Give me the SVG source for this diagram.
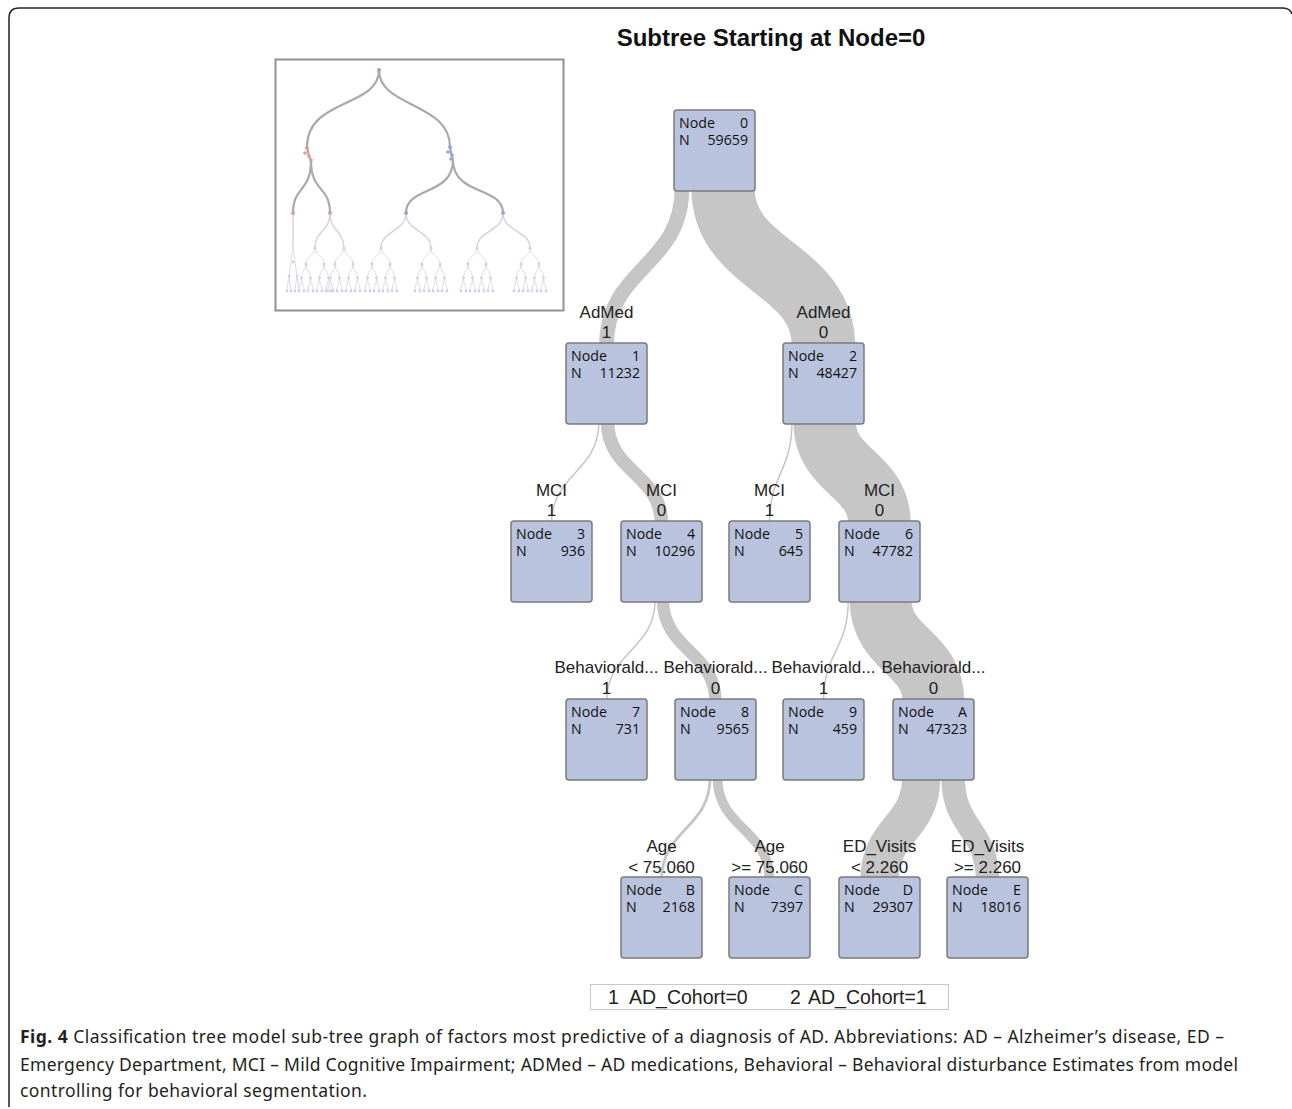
<svg xmlns="http://www.w3.org/2000/svg" xmlns:xlink="http://www.w3.org/1999/xlink" width="1292" height="1109" viewBox="0 0 1292 1109">
<style>
.nb{fill:#bac3de;stroke:#7b7b7b;stroke-width:1.5}
.nt{font-family:"Open Sans","Noto Sans",sans-serif;font-size:14.2px;fill:#111}
.e{text-anchor:end}
.lb{font-family:"Liberation Sans",Arial,sans-serif;font-size:17px;fill:#222;text-anchor:middle}
.band{fill:none;stroke:#c6c6c6;stroke-linecap:butt}
.mm1{fill:none;stroke:#a9a9ad;stroke-width:2.2}
.mm2{fill:none;stroke:#d2d3da;stroke-width:1.4}
.mm3{fill:none;stroke:#dcdde6;stroke-width:1}
.rd{fill:#e59a9a}
.bd{fill:#98a3dc}
.ld{fill:#cdd1ec}
.cap{font-family:"Noto Sans","Open Sans",sans-serif;font-size:17.5px;fill:#231f20}
</style>
<defs>
<g id="st">
<path class="mm3" d="M0,0 C0,8 -9,8 -9,16 M0,0 C0,8 9,8 9,16 M-9,16 C-9,23 -13.5,23 -13.5,30 M-9,16 C-9,23 -4.5,23 -4.5,30 M9,16 C9,23 4.5,23 4.5,30 M9,16 C9,23 13.5,23 13.5,30 M-13.5,30 C-13.5,36 -16,36 -16,42 M-13.5,30 C-13.5,36 -11,36 -11,42 M-4.5,30 C-4.5,36 -7,36 -7,42 M-4.5,30 C-4.5,36 -2,36 -2,42 M4.5,30 C4.5,36 2,36 2,42 M4.5,30 C4.5,36 7,36 7,42 M13.5,30 C13.5,36 11,36 11,42 M13.5,30 C13.5,36 16,36 16,42"/>
<circle class="ld" cx="0" cy="0" r="1.6"/><circle class="ld" cx="-9" cy="16" r="1.5"/><circle class="ld" cx="9" cy="16" r="1.5"/>
<circle class="ld" cx="-13.5" cy="30" r="1.4"/><circle class="ld" cx="-4.5" cy="30" r="1.4"/><circle class="ld" cx="4.5" cy="30" r="1.4"/><circle class="ld" cx="13.5" cy="30" r="1.4"/>
<circle class="ld" cx="-16" cy="43" r="1.4"/><circle class="ld" cx="-11" cy="43" r="1.4"/><circle class="ld" cx="-7" cy="43" r="1.4"/><circle class="ld" cx="-2" cy="43" r="1.4"/><circle class="ld" cx="2" cy="43" r="1.4"/><circle class="ld" cx="7" cy="43" r="1.4"/><circle class="ld" cx="11" cy="43" r="1.4"/><circle class="ld" cx="16" cy="43" r="1.4"/>
</g>
</defs>
<rect width="1292" height="1109" fill="#fff"/>
<path d="M9,1107 L9,18 Q9,8 19,8 L1282,8 Q1290,8 1292,14" fill="none" stroke="#222" stroke-width="1.5"/>

<text x="771" y="46" font-family="Liberation Sans,Arial,sans-serif" font-size="24" font-weight="bold" fill="#111" text-anchor="middle">Subtree Starting at Node=0</text>

<g id="overview">
<rect x="275.5" y="59.5" width="288" height="251" fill="#fff" stroke="#8c919c" stroke-width="2"/>
<path class="mm1" d="M379,70 C379,108 307,98 307,147 M379,70 C379,108 450,102 450,147"/>
<path class="mm1" d="M307,147 L309,156 L311,161 M450,147 L451,153 L453,160"/>
<path class="mm1" d="M311,161 C311,192 293,186 293,213 M311,161 C311,192 330,186 330,213 M453,160 C453,196 406,186 406,213 M453,160 C453,196 503,186 503,213"/>
<path class="mm2" d="M293,213 L293,245 M330,213 C330,232 315,230 315,248 M330,213 C330,232 344,230 344,248 M406,213 C406,232 381,230 381,248 M406,213 C406,232 431,230 431,248 M503,213 C503,232 477,230 477,248 M503,213 C503,232 530,230 530,248"/>
<path class="mm3" d="M293,245 L291,262 L289,276 M293,245 L295,262 L297,276 M289,276 L287,290 M289,276 L291,290 M297,276 L295,290 M297,276 L299,290"/>
<circle class="bd" cx="379" cy="70" r="2"/>
<circle class="rd" cx="307" cy="148" r="2"/><circle class="rd" cx="305" cy="153" r="1.8"/><circle class="rd" cx="309" cy="156" r="1.8"/><circle class="rd" cx="311" cy="160" r="1.8"/>
<circle class="bd" cx="450" cy="147" r="2"/><circle class="bd" cx="448" cy="152" r="1.8"/><circle class="bd" cx="452" cy="155" r="1.8"/><circle class="bd" cx="451" cy="159" r="1.8"/>
<circle class="rd" cx="293" cy="213" r="2"/><circle class="rd" cx="330" cy="213" r="2"/>
<circle class="bd" cx="406" cy="213" r="2"/><circle class="bd" cx="503" cy="213" r="2"/>
<use xlink:href="#st" x="315" y="248"/><use xlink:href="#st" x="344" y="248"/>
<use xlink:href="#st" x="381" y="248"/><use xlink:href="#st" x="431" y="248"/>
<use xlink:href="#st" x="477" y="248"/><use xlink:href="#st" x="530" y="248"/>
<circle class="ld" cx="293" cy="262" r="1.4"/><circle class="ld" cx="289" cy="276" r="1.4"/><circle class="ld" cx="297" cy="276" r="1.4"/><circle class="ld" cx="287" cy="291" r="1.4"/><circle class="ld" cx="291" cy="291" r="1.4"/><circle class="ld" cx="295" cy="291" r="1.4"/><circle class="ld" cx="299" cy="291" r="1.4"/>
</g>

<g id="connectors">
<path class="band" stroke-width="14.7" d="M682,188 C682,267 606.5,267 606.5,346"/>
<path class="band" stroke-width="63.3" d="M723,188 C723,267 823.5,267 823.5,346"/>
<path class="band" stroke-width="1.5" d="M599,421 C599,473 551.5,473 551.5,524"/>
<path class="band" stroke-width="13.5" d="M607.5,421 C607.5,473 661.5,473 661.5,524"/>
<path class="band" stroke-width="1.5" d="M792,421 C792,473 769.5,473 769.5,524"/>
<path class="band" stroke-width="62.5" d="M824.6,421 C824.6,473 879.5,473 879.5,524"/>
<path class="band" stroke-width="1.5" d="M655.2,599 C655.2,651 606.5,651 606.5,702"/>
<path class="band" stroke-width="12.5" d="M662.9,599 C662.9,651 715.5,651 715.5,702"/>
<path class="band" stroke-width="1.5" d="M848.3,599 C848.3,651 823.5,651 823.5,702"/>
<path class="band" stroke-width="61.9" d="M880.5,599 C880.5,651 933.5,651 933.5,702"/>
<path class="band" stroke-width="2.8" d="M710.1,777 C710.1,829 661.5,829 661.5,880"/>
<path class="band" stroke-width="9.7" d="M717.4,777 C717.4,829 769.5,829 769.5,880"/>
<path class="band" stroke-width="38.3" d="M921.2,777 C921.2,829 879.5,829 879.5,880"/>
<path class="band" stroke-width="23.5" d="M953.1,777 C953.1,829 987.5,829 987.5,880"/>
</g>

<g id="node0"><rect class="nb" x="674" y="110" width="81" height="81" rx="3"/><text class="nt" x="679" y="128">Node</text><text class="nt e" x="748" y="128">0</text><text class="nt" x="679" y="145">N</text><text class="nt e" x="748" y="145">59659</text></g>

<g id="node1"><text class="lb" x="606.5" y="318">AdMed</text><text class="lb" x="606.5" y="338">1</text><rect class="nb" x="566" y="343" width="81" height="81" rx="3"/><text class="nt" x="571" y="361">Node</text><text class="nt e" x="640" y="361">1</text><text class="nt" x="571" y="378">N</text><text class="nt e" x="640" y="378">11232</text></g>

<g id="node2"><text class="lb" x="823.5" y="318">AdMed</text><text class="lb" x="823.5" y="338">0</text><rect class="nb" x="783" y="343" width="81" height="81" rx="3"/><text class="nt" x="788" y="361">Node</text><text class="nt e" x="857" y="361">2</text><text class="nt" x="788" y="378">N</text><text class="nt e" x="857" y="378">48427</text></g>

<g id="node3"><text class="lb" x="551.5" y="496">MCI</text><text class="lb" x="551.5" y="516">1</text><rect class="nb" x="511" y="521" width="81" height="81" rx="3"/><text class="nt" x="516" y="539">Node</text><text class="nt e" x="585" y="539">3</text><text class="nt" x="516" y="556">N</text><text class="nt e" x="585" y="556">936</text></g>

<g id="node4"><text class="lb" x="661.5" y="496">MCI</text><text class="lb" x="661.5" y="516">0</text><rect class="nb" x="621" y="521" width="81" height="81" rx="3"/><text class="nt" x="626" y="539">Node</text><text class="nt e" x="695" y="539">4</text><text class="nt" x="626" y="556">N</text><text class="nt e" x="695" y="556">10296</text></g>

<g id="node5"><text class="lb" x="769.5" y="496">MCI</text><text class="lb" x="769.5" y="516">1</text><rect class="nb" x="729" y="521" width="81" height="81" rx="3"/><text class="nt" x="734" y="539">Node</text><text class="nt e" x="803" y="539">5</text><text class="nt" x="734" y="556">N</text><text class="nt e" x="803" y="556">645</text></g>

<g id="node6"><text class="lb" x="879.5" y="496">MCI</text><text class="lb" x="879.5" y="516">0</text><rect class="nb" x="839" y="521" width="81" height="81" rx="3"/><text class="nt" x="844" y="539">Node</text><text class="nt e" x="913" y="539">6</text><text class="nt" x="844" y="556">N</text><text class="nt e" x="913" y="556">47782</text></g>

<g id="node7"><text class="lb" x="606.5" y="673">Behaviorald...</text><text class="lb" x="606.5" y="694">1</text><rect class="nb" x="566" y="699" width="81" height="81" rx="3"/><text class="nt" x="571" y="717">Node</text><text class="nt e" x="640" y="717">7</text><text class="nt" x="571" y="734">N</text><text class="nt e" x="640" y="734">731</text></g>

<g id="node8"><text class="lb" x="715.5" y="673">Behaviorald...</text><text class="lb" x="715.5" y="694">0</text><rect class="nb" x="675" y="699" width="81" height="81" rx="3"/><text class="nt" x="680" y="717">Node</text><text class="nt e" x="749" y="717">8</text><text class="nt" x="680" y="734">N</text><text class="nt e" x="749" y="734">9565</text></g>

<g id="node9"><text class="lb" x="823.5" y="673">Behaviorald...</text><text class="lb" x="823.5" y="694">1</text><rect class="nb" x="783" y="699" width="81" height="81" rx="3"/><text class="nt" x="788" y="717">Node</text><text class="nt e" x="857" y="717">9</text><text class="nt" x="788" y="734">N</text><text class="nt e" x="857" y="734">459</text></g>

<g id="nodeA"><text class="lb" x="933.5" y="673">Behaviorald...</text><text class="lb" x="933.5" y="694">0</text><rect class="nb" x="893" y="699" width="81" height="81" rx="3"/><text class="nt" x="898" y="717">Node</text><text class="nt e" x="967" y="717">A</text><text class="nt" x="898" y="734">N</text><text class="nt e" x="967" y="734">47323</text></g>

<g id="nodeB"><text class="lb" x="661.5" y="852">Age</text><text class="lb" x="661.5" y="873">&lt; 75.060</text><rect class="nb" x="621" y="877" width="81" height="81" rx="3"/><text class="nt" x="626" y="895">Node</text><text class="nt e" x="695" y="895">B</text><text class="nt" x="626" y="912">N</text><text class="nt e" x="695" y="912">2168</text></g>

<g id="nodeC"><text class="lb" x="769.5" y="852">Age</text><text class="lb" x="769.5" y="873">&gt;= 75.060</text><rect class="nb" x="729" y="877" width="81" height="81" rx="3"/><text class="nt" x="734" y="895">Node</text><text class="nt e" x="803" y="895">C</text><text class="nt" x="734" y="912">N</text><text class="nt e" x="803" y="912">7397</text></g>

<g id="nodeD"><text class="lb" x="879.5" y="852">ED_Visits</text><text class="lb" x="879.5" y="873">&lt; 2.260</text><rect class="nb" x="839" y="877" width="81" height="81" rx="3"/><text class="nt" x="844" y="895">Node</text><text class="nt e" x="913" y="895">D</text><text class="nt" x="844" y="912">N</text><text class="nt e" x="913" y="912">29307</text></g>

<g id="nodeE"><text class="lb" x="987.5" y="852">ED_Visits</text><text class="lb" x="987.5" y="873">&gt;= 2.260</text><rect class="nb" x="947" y="877" width="81" height="81" rx="3"/><text class="nt" x="952" y="895">Node</text><text class="nt e" x="1021" y="895">E</text><text class="nt" x="952" y="912">N</text><text class="nt e" x="1021" y="912">18016</text></g>

<g id="legend">
<rect x="590.5" y="984.5" width="358" height="25" fill="#fff" stroke="#c8c8c8" stroke-width="1"/>
<text x="608" y="1004" font-family="Liberation Sans,Arial,sans-serif" font-size="19.5" fill="#222">1</text>
<text x="629" y="1004" font-family="Liberation Sans,Arial,sans-serif" font-size="19.5" fill="#222">AD_Cohort=0</text>
<text x="790" y="1004" font-family="Liberation Sans,Arial,sans-serif" font-size="19.5" fill="#222">2</text>
<text x="808" y="1004" font-family="Liberation Sans,Arial,sans-serif" font-size="19.5" fill="#222">AD_Cohort=1</text>
</g>

<g id="caption">
<text class="cap" x="20" y="1043" textLength="1204" lengthAdjust="spacing"><tspan font-weight="bold">Fig. 4</tspan> Classification tree model sub-tree graph of factors most predictive of a diagnosis of AD. Abbreviations: AD – Alzheimer’s disease, ED –</text>
<text class="cap" x="20" y="1071" textLength="1218" lengthAdjust="spacing">Emergency Department, MCI – Mild Cognitive Impairment; ADMed – AD medications, Behavioral – Behavioral disturbance Estimates from model</text>
<text class="cap" x="20" y="1097" textLength="347" lengthAdjust="spacing">controlling for behavioral segmentation.</text>
</g>
</svg>
